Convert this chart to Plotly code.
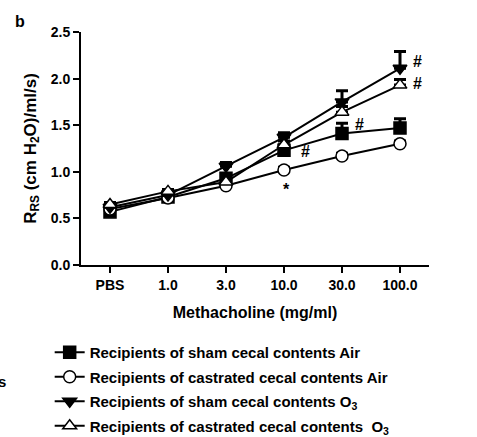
import plotly.graph_objects as go

categories = ["PBS", "1.0", "3.0", "10.0", "30.0", "100.0"]

sham_air = [0.57, 0.73, 0.93, 1.23, 1.41, 1.47]
sham_air_err = [0.03, 0.02, 0.04, 0.05, 0.11, 0.10]
cast_air = [0.60, 0.72, 0.85, 1.02, 1.17, 1.30]
cast_air_err = [0.02, 0.02, 0.02, 0.03, 0.03, 0.03]
sham_o3 = [0.62, 0.75, 1.06, 1.37, 1.75, 2.11]
sham_o3_err = [0.03, 0.02, 0.04, 0.05, 0.12, 0.18]
cast_o3 = [0.65, 0.79, 0.89, 1.29, 1.64, 1.93]
cast_o3_err = [0.02, 0.02, 0.03, 0.04, 0.06, 0.06]

names = [
    "Recipients of sham cecal contents Air",
    "Recipients of castrated cecal contents Air",
    "Recipients of sham cecal contents O<sub>3</sub>",
    "Recipients of castrated cecal contents  O<sub>3</sub>",
]
series = [sham_air, cast_air, sham_o3, cast_o3]
errors = [sham_air_err, cast_air_err, sham_o3_err, cast_o3_err]
symbols = ["square", "circle", "triangle-down", "triangle-up"]
fills = ["black", "white", "black", "white"]

fig = go.Figure()
for i, (nm, ys, er, sym, fc) in enumerate(zip(names, series, errors, symbols, fills)):
    fig.add_trace(go.Scatter(
        x=list(range(len(categories))), y=ys, name=f"<b>{nm}</b>",
        mode="lines+markers",
        line=dict(color="black", width=2),
        marker=dict(symbol=sym, size=12, color=fc,
                    line=dict(color="black", width=1.5)),
        error_y=dict(type="data", array=er, arrayminus=[0]*len(er), symmetric=False,
                     color="black", thickness=3, width=6),
        legendgroup=f"g{i}",
    ))

annos = [
    dict(x=5, y=2.11, text="#", xshift=17, yshift=7),
    dict(x=5, y=1.93, text="#", xshift=17, yshift=2),
    dict(x=4, y=1.41, text="#", xshift=17, yshift=9),
    dict(x=3, y=1.23, text="#", xshift=21, yshift=-1),
    dict(x=3, y=1.02, text="*", xshift=2, yshift=-20),
]
for a in annos:
    fig.add_annotation(x=a["x"], y=a["y"], text=f"<b>{a['text']}</b>", showarrow=False,
                       xshift=a["xshift"], yshift=a["yshift"],
                       font=dict(size=16, color="black", family="Arial"))

fig.add_annotation(xref="paper", yref="paper", x=-0.175, y=1.047, text="<b>b</b>",
                   showarrow=False, font=dict(size=16, color="black"), xanchor="center",
                   yanchor="middle")
fig.add_annotation(xref="paper", yref="paper", x=-0.245, y=-0.498, text="<b>s</b>",
                   showarrow=False, font=dict(size=15, color="black"), xanchor="left",
                   yanchor="middle")

fig.update_layout(
    width=477, height=437,
    margin=dict(l=81, r=48, t=32, b=172, autoexpand=False),
    paper_bgcolor="white", plot_bgcolor="white",
    font=dict(family="Arial", color="black", size=14),
    showlegend=True,
    legend=dict(x=-0.09, y=-0.305, xanchor="left", yanchor="top",
                font=dict(size=15, color="black", family="Arial"),
                tracegroupgap=2, traceorder="grouped", itemwidth=30,
                bgcolor="rgba(0,0,0,0)"),
    xaxis=dict(range=[-0.5, 5.5], tickvals=list(range(6)),
               ticktext=[f"<b>{c}</b>" for c in categories],
               showline=True, linecolor="black", linewidth=2,
               ticks="outside", ticklen=6, tickwidth=2, tickcolor="black",
               showgrid=False, zeroline=False,
               title=dict(text="<b>Methacholine (mg/ml)</b>", font=dict(size=16), standoff=15),
               tickfont=dict(size=14)),
    yaxis=dict(range=[0, 2.5], tickvals=[0, 0.5, 1.0, 1.5, 2.0, 2.5],
               ticktext=["<b>0.0</b>", "<b>0.5</b>", "<b>1.0</b>", "<b>1.5</b>", "<b>2.0</b>", "<b>2.5</b>"],
               showline=True, linecolor="black", linewidth=2,
               ticks="outside", ticklen=6, tickwidth=2, tickcolor="black",
               showgrid=False, zeroline=False,
               title=dict(text="<b>R<sub>RS</sub> (cm H<sub>2</sub>O)/ml/s)</b>", font=dict(size=17), standoff=10),
               tickfont=dict(size=14)),
)
fig.write_html("out.html")
